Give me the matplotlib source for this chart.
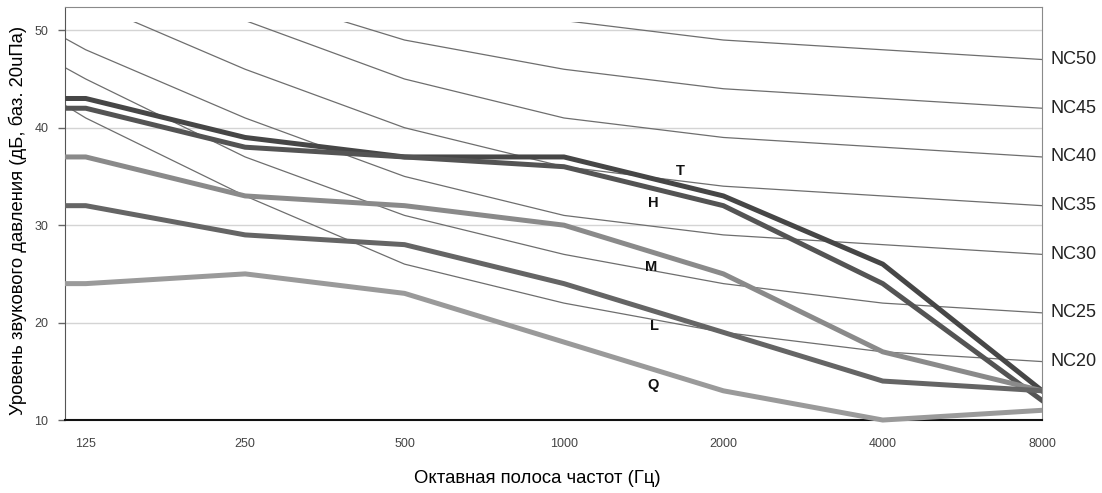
import numpy as np
import matplotlib.pyplot as plt
from matplotlib.patches import Rectangle

plt.rcParams['font.family'] = ['Liberation Sans', 'DejaVu Sans']

# octave bands (63 Hz is only used so the curves enter from the left edge)
bands = ['63', '125', '250', '500', '1000', '2000', '4000', '8000']

# NC curves
nc_names = ['NC20', 'NC25', 'NC30', 'NC35', 'NC40', 'NC45', 'NC50']
nc20 = [51, 41, 33, 26, 22, 19, 17, 16]
nc25 = [54, 45, 37, 31, 27, 24, 22, 21]
nc30 = [57, 48, 41, 35, 31, 29, 28, 27]
nc35 = [60, 53, 46, 40, 36, 34, 33, 32]
nc40 = [64, 57, 51, 45, 41, 39, 38, 37]
nc45 = [67, 60, 54, 49, 46, 44, 43, 42]
nc50 = [71, 64, 58, 54, 51, 49, 48, 47]
nc_curves = [nc20, nc25, nc30, nc35, nc40, nc45, nc50]

# measured spectra
series_names = ['T', 'H', 'M', 'L', 'Q']
t_vals = [43, 43, 39, 37, 37, 33, 26, 13]
h_vals = [42, 42, 38, 37, 36, 32, 24, 12]
m_vals = [37, 37, 33, 32, 30, 25, 17, 13]
l_vals = [32, 32, 29, 28, 24, 19, 14, 13]
q_vals = [24, 24, 25, 23, 18, 13, 10, 11]
series = [t_vals, h_vals, m_vals, l_vals, q_vals]
series_colors = ['#464646', '#545454', '#8a8a8a', '#656565', '#9a9a9a']
label_pos = [(3.73, 35.6), (3.56, 32.3), (3.55, 25.7), (3.57, 19.7), (3.56, 13.6)]

x = np.arange(len(bands)) - 1

fig = plt.figure(figsize=(11.02, 4.93), dpi=100)
ax = fig.add_axes([0.059, 0.148, 0.8867, 0.838])
ax.set_xlim(-0.13, 6)
ax.set_ylim(10, 52.4)

x0, x1 = ax.get_xlim()
clip = Rectangle((x0, 9), x1 - x0, 41.9, transform=ax.transData)

for name, vals in zip(nc_names, nc_curves):
    ln, = ax.plot(x, vals, color='#6e6e6e', lw=0.9, zorder=2)
    ln.set_clip_path(clip)
    ax.annotate(name, xy=(6, vals[-1]), xytext=(6, 0), textcoords='offset points',
                va='center', ha='left', fontsize=13, color='#222222',
                annotation_clip=False)

for name, vals, c, pos in zip(series_names, series, series_colors, label_pos):
    ln, = ax.plot(x, vals, color=c, lw=3.6, zorder=3, solid_joinstyle='miter')
    ln.set_clip_path(clip)
    ax.text(pos[0], pos[1], name, fontsize=10.5, fontweight='bold',
            ha='center', va='center', color='#111111', zorder=4)

ax.set_xticks(range(7))
ax.set_xticklabels(bands[1:])
ax.set_yticks([10, 20, 30, 40, 50])
ax.yaxis.grid(True, color='#d4d4d4', lw=1)
ax.set_axisbelow(True)

ax.tick_params(axis='x', length=0, pad=13, labelsize=9, labelcolor='#444444')
ax.tick_params(axis='y', length=5, width=1, pad=7, labelsize=9,
               labelcolor='#444444', color='#666666')

ax.spines['top'].set_color('#8a8a8a')
ax.spines['right'].set_color('#8a8a8a')
ax.spines['left'].set_color('#555555')
ax.spines['bottom'].set_color('#111111')
ax.spines['bottom'].set_linewidth(1.5)

ax.set_ylabel('Уровень звукового давления (дБ, баз. 20uПа)', fontsize=13.3, labelpad=5)
ax.set_xlabel('Октавная полоса частот (Гц)', fontsize=13.3, labelpad=14)
ax.xaxis.label.set_x(0.483)
ax.yaxis.label.set_y(0.484)

fig.savefig('out.png', dpi=100)
